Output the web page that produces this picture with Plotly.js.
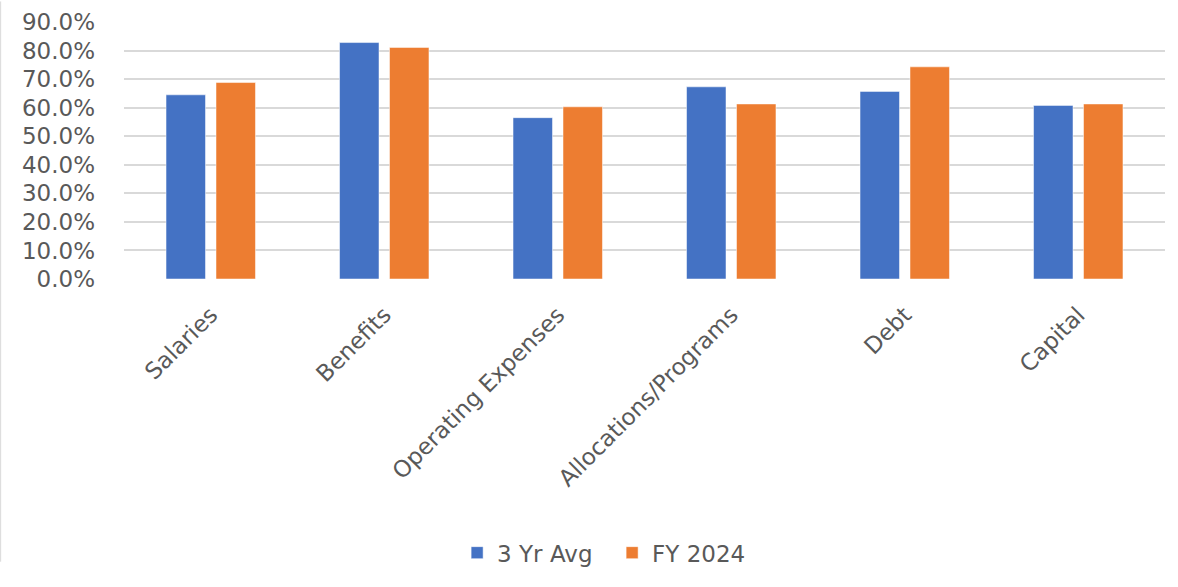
<!DOCTYPE html>
<html>
<head>
<meta charset="utf-8">
<script src="https://cdn.plot.ly/plotly-3.0.1.min.js"></script>
<style>html,body{margin:0;padding:0;background:#fff;overflow:hidden;}#chart{width:1178px;height:587px;}</style>
</head>
<body>
<div id="chart"></div>
<script>
const categories = ["Salaries", "Benefits", "Operating Expenses", "Allocations/Programs", "Debt", "Capital"];
const avg3yr = [0.645, 0.828, 0.565, 0.673, 0.657, 0.608];
const fy2024 = [0.688, 0.811, 0.603, 0.613, 0.743, 0.613];
const seriesNames = ["3 Yr Avg", "FY 2024"];

const font = {family: "'DejaVu Sans', 'Open Sans', sans-serif", color: "#595959"};

const data = [
  {type: "bar", name: seriesNames[0], x: categories, y: avg3yr, marker: {color: "#4472C4", line: {color: "#ffffff", width: 0.5}}},
  {type: "bar", name: seriesNames[1], x: categories, y: fy2024, marker: {color: "#ED7D31", line: {color: "#ffffff", width: 0.5}}}
];

const layout = {
  width: 1178, height: 587,
  margin: {l: 124, r: 13, t: 22, b: 297},
  paper_bgcolor: "#ffffff", plot_bgcolor: "#ffffff",
  barmode: "group", bargap: 0.424, bargroupgap: 0.21,
  font: Object.assign({size: 23}, font),
  xaxis: {
    type: "category", tickangle: -45, showgrid: false, zeroline: false, showline: false, ticks: "",
    tickfont: Object.assign({size: 23}, font), ticklabelstandoff: 17, ticklabelshift: 0
  },
  yaxis: {
    range: [0, 0.9], dtick: 0.1, tick0: 0, tickformat: ".1%",
    showgrid: true, gridcolor: "#d9d9d9", gridwidth: 2, zeroline: false, showline: false, ticks: "",
    tickfont: Object.assign({size: 23}, font), ticklabelstandoff: 28
  },
  legend: {orientation: "h", x: 0.320, xanchor: "left", y: -1.065, yanchor: "middle",
    font: Object.assign({size: 23}, font), itemwidth: 30, entrywidth: 110, traceorder: "normal"},
  showlegend: true,
  shapes: [{type: "line", xref: "paper", yref: "paper", x0: -0.1185, x1: -0.1185, y0: -1.1, y1: 1.08,
    line: {color: "#d9d9d9", width: 1}, layer: "below"}]
};

Plotly.newPlot("chart", data, layout, {displayModeBar: false, staticPlot: true});
</script>
</body>
</html>
